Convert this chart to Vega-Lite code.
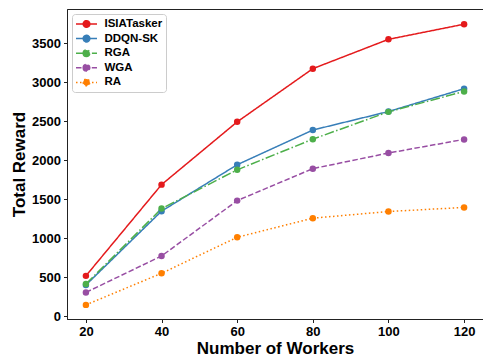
{
  "$schema": "https://vega.github.io/schema/vega-lite/v6.json",
  "width": 416,
  "height": 310,
  "autosize": {"type": "none"},
  "padding": {"left": 67, "top": 9, "right": 0, "bottom": 38},
  "background": "white",
  "config": {
    "font": "Liberation Sans",
    "view": {"stroke": "#222", "strokeWidth": 1},
    "axis": {
      "grid": false,
      "domainColor": "#222",
      "tickColor": "#222",
      "tickSize": 3.5,
      "labelFont": "Liberation Sans",
      "labelFontWeight": "bold",
      "labelFontSize": 13,
      "labelColor": "#000",
      "labelPadding": 3,
      "titleFont": "Liberation Sans",
      "titleFontWeight": "bold",
      "titleFontSize": 17,
      "titleColor": "#000"
    }
  },
  "data": {
    "values": [
      {"workers": 20, "method": "ISIATasker", "reward": 515},
      {"workers": 40, "method": "ISIATasker", "reward": 1685},
      {"workers": 60, "method": "ISIATasker", "reward": 2490},
      {"workers": 80, "method": "ISIATasker", "reward": 3172},
      {"workers": 100, "method": "ISIATasker", "reward": 3548},
      {"workers": 120, "method": "ISIATasker", "reward": 3742},
      {"workers": 20, "method": "DDQN-SK", "reward": 398},
      {"workers": 40, "method": "DDQN-SK", "reward": 1345},
      {"workers": 60, "method": "DDQN-SK", "reward": 1940},
      {"workers": 80, "method": "DDQN-SK", "reward": 2385},
      {"workers": 100, "method": "DDQN-SK", "reward": 2622},
      {"workers": 120, "method": "DDQN-SK", "reward": 2915},
      {"workers": 20, "method": "RGA", "reward": 410},
      {"workers": 40, "method": "RGA", "reward": 1378},
      {"workers": 60, "method": "RGA", "reward": 1875},
      {"workers": 80, "method": "RGA", "reward": 2268},
      {"workers": 100, "method": "RGA", "reward": 2618},
      {"workers": 120, "method": "RGA", "reward": 2880},
      {"workers": 20, "method": "WGA", "reward": 303},
      {"workers": 40, "method": "WGA", "reward": 770},
      {"workers": 60, "method": "WGA", "reward": 1480},
      {"workers": 80, "method": "WGA", "reward": 1890},
      {"workers": 100, "method": "WGA", "reward": 2090},
      {"workers": 120, "method": "WGA", "reward": 2265},
      {"workers": 20, "method": "RA", "reward": 143},
      {"workers": 40, "method": "RA", "reward": 548},
      {"workers": 60, "method": "RA", "reward": 1010},
      {"workers": 80, "method": "RA", "reward": 1255},
      {"workers": 100, "method": "RA", "reward": 1340},
      {"workers": 120, "method": "RA", "reward": 1393}
    ]
  },
  "encoding": {
    "x": {
      "field": "workers",
      "type": "quantitative",
      "title": "Number of Workers",
      "scale": {"domain": [15, 125], "nice": false, "zero": false},
      "axis": {"values": [20, 40, 60, 80, 100, 120], "titlePadding": 2}
    },
    "y": {
      "field": "reward",
      "type": "quantitative",
      "title": "Total Reward",
      "scale": {"domain": [-38, 3937], "nice": false, "zero": false},
      "axis": {"values": [0, 500, 1000, 1500, 2000, 2500, 3000, 3500], "format": "d", "titlePadding": 3}
    },
    "color": {
      "field": "method",
      "type": "nominal",
      "title": null,
      "scale": {
        "domain": ["ISIATasker", "DDQN-SK", "RGA", "WGA", "RA"],
        "range": ["#e41a1c", "#377eb8", "#4daf4a", "#984ea3", "#ff7f00"]
      },
      "legend": {
        "orient": "none",
        "legendX": 5,
        "legendY": 5,
        "symbolType": "M-1.75,0H1.75M-0.55,0a0.55,0.55 0 1,0 1.1,0a0.55,0.55 0 1,0 -1.1,0",
        "symbolSize": 144,
        "symbolStrokeWidth": 1.5,
        "symbolOffset": 4.5,
        "labelFontSize": 11.5,
        "labelFontWeight": "bold",
        "labelColor": "#000",
        "labelFont": "Liberation Sans",
        "labelOffset": 11,
        "rowPadding": 0.6,
        "padding": 3,
        "strokeColor": "#cccccc",
        "fillColor": "rgba(255,255,255,0.85)",
        "cornerRadius": 3,
        "encode": {
          "symbols": {"update": {"fill": {"scale": "color", "field": "value"}}}
        }
      }
    }
  },
  "layer": [
    {
      "mark": {"type": "line", "strokeWidth": 1.5},
      "encoding": {
        "strokeDash": {
          "field": "method",
          "type": "nominal",
          "title": null,
          "scale": {
            "domain": ["ISIATasker", "DDQN-SK", "RGA", "WGA", "RA"],
            "range": [[1, 0], [1, 0], [9.6, 2.4, 1.5, 2.4], [5.5, 2.4], [1.5, 2.5]]
          }
        }
      }
    },
    {
      "mark": {"type": "point", "filled": true, "opacity": 1, "size": 42},
      "encoding": {}
    }
  ]
}
